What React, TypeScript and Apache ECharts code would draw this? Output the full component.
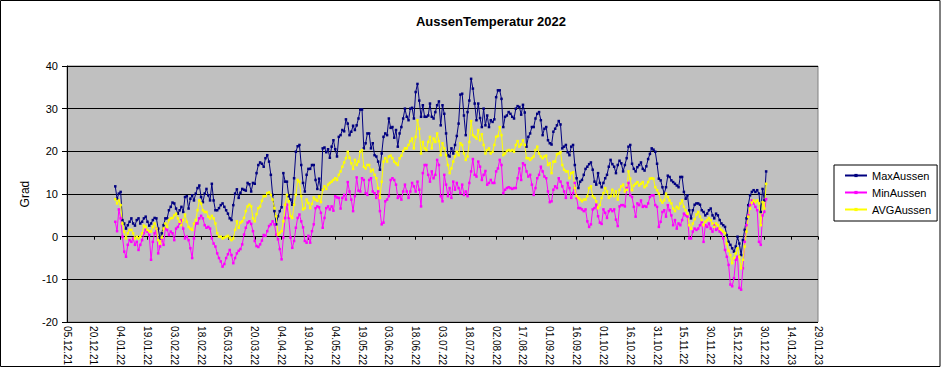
import React, { useEffect, useRef } from "react";
import * as echarts from "echarts";

// Daily values 01.01.2022 - 31.12.2022
const maxAussen = [
  11.8, 8.9, 10.1, 10.5, 3.9, 3.1, 1.9, 2.7, 3.5, 4.3,
  3.1, 2.6, 3.9, 4.3, 3.1, 3.5, 4.3, 4.7, 3.5, 2.6,
  3.1, 3.9, 4.4, 4.3, 1.9, -0.4, 0.8, 2.7, 4.3, 4.3,
  6.2, 7.0, 8.0, 7.8, 6.6, 5.4, 6.2, 7.0, 5.8, 9.3,
  9.5, 6.6, 8.9, 9.7, 8.5, 10.1, 11.4, 12.0, 9.3, 8.1,
  10.1, 11.2, 9.7, 8.5, 12.4, 8.5, 6.2, 6.2, 6.7, 7.4,
  7.8, 7.0, 6.2, 5.4, 4.3, 3.9, 7.4, 10.1, 11.1,
  9.1, 10.3, 11.2, 11.0, 10.8, 12.6, 12.3, 10.6, 12.6, 12.4,
  14.9, 16.8, 17.4, 17.1, 16.4, 18.4, 19.1, 17.6, 14.5, 9.8,
  6.0, 2.9, 4.8, 6.0, 6.9, 14.9, 12.9, 12.9, 9.5, 8.7,
  7.5, 13.7, 19.9, 21.2, 21.5, 16.8, 12.6, 10.6, 14.5, 15.9,
  15.9, 16.8, 16.8, 13.3, 11.2, 13.6, 11.0, 20.7, 20.9, 19.8,
  20.5, 18.5, 21.1, 22.6, 20.5, 18.8, 23.4, 23.8, 25.0, 24.7,
  27.5, 26.5, 23.8, 24.6, 26.0, 25.0, 26.1, 27.7, 29.8, 29.8,
  20.7, 21.9, 24.2,
  24.2, 20.7, 21.9, 19.1, 18.8, 17.6, 15.7, 19.5, 23.4, 24.2,
  23.8, 27.7, 25.5, 25.7, 23.2, 25.0, 21.1, 24.2, 25.7, 27.7,
  30.0, 28.1, 27.3, 30.0, 30.2, 27.7, 33.9, 35.8, 31.9, 28.1,
  30.8, 28.1, 28.1, 28.4, 31.2, 28.1, 27.7, 29.2, 30.8, 31.7,
  26.1, 30.8, 28.8, 24.2, 19.1, 18.8, 20.7, 19.5, 21.5, 23.6,
  26.5, 33.3, 33.5, 28.4, 23.8, 29.2, 31.9, 37.0, 34.7, 31.2,
  27.3, 31.2, 27.8, 25.7, 30.0, 26.1, 28.4, 25.7, 27.3, 26.9,
  27.5, 32.7, 34.3,
  34.3, 32.3, 25.7, 28.1, 28.4, 29.2, 28.8, 28.1, 27.7, 30.0,
  30.6, 30.4, 28.6, 30.9, 29.1, 21.1, 23.4, 24.2, 25.7, 25.7,
  27.7, 28.8, 29.2, 27.3, 23.8, 25.3, 25.7, 22.6, 21.9, 21.6,
  24.6, 25.3, 26.1, 27.1, 26.3, 20.7, 21.1, 21.5, 19.8, 19.1,
  21.1, 21.5, 16.8, 13.7, 11.4, 12.9, 13.3, 14.5, 15.9, 16.4,
  17.0, 17.4, 15.7, 12.9, 12.2, 14.9, 12.6, 11.6, 12.6, 13.7,
  14.5, 16.4, 18.0, 17.0, 16.4, 14.9, 16.8, 17.8, 17.2, 15.3,
  16.8, 18.4, 21.1,
  21.5, 17.1, 15.9, 15.3, 16.3, 16.8, 17.4, 15.9, 15.5, 16.5,
  18.2, 19.4, 20.7, 20.4, 19.9, 17.1, 13.6, 13.2, 11.6, 10.1,
  11.6, 14.3, 14.0, 13.2, 12.8, 12.4, 12.0, 11.6, 14.0, 14.0,
  10.5, 8.9, 9.7, 6.2, 4.3, 6.2, 7.5, 7.8, 7.8, 7.5,
  6.2, 5.8, 5.0, 5.4, 6.2, 6.6, 5.0, 4.3, 5.4, 5.0,
  3.9, 3.1, 2.7, 2.3, 0.4, -1.2, -1.9, -2.7, -3.5, -2.3,
  0, -1.6, -4.3, -0.8, 1.6, 4.3, 7.4, 9.7, 10.5, 10.9,
  10.5, 10.9, 10.1, 5.8, 11.2, 8.5, 15.3,
];

const minAussen = [
  3.5, 1.3, 6.4, 4.3, 0, -3.5, -4.7, -1.9, -0.8, -1.2,
  -0.4, -1.9, -1.2, -3.1, -1.9, -0.8, 0.8, 1.6, 1.2, 0.4,
  -5.4, -1.2, 0.8, 1.9, -3.9, -2.3, -0.4, -1.9, 1.9, 1.6,
  0.4, 1.2, 0.8, -0.8, 1.9, 2.3, 3.1, 3.9, 1.9, -0.4,
  0, -0.8, -2.7, -5.0, -0.4, 3.1, 3.1, 4.3, 4.9, 4.3,
  2.7, 2.1, 2.3, 1.9, -0.4, -1.6, -2.3, -3.9, -5.0, -5.8,
  -7.0, -6.4, -5.0, -4.1, -3.1, -4.3, -6.2, -5.0, -3.9,
  -3.3, -2.9, -1.8, 0.5, 2.1, 3.3, 3.6, 3.0, 1.3, -1.0,
  -2.2, -2.4, -1.8, -0.9, 0.4, 0.2, 1.3, 2.5, 2.9, 3.6,
  2.9, 0.5, -0.6, -2.9, -5.3, -0.2, 4.4, 7.5, 4.4, -0.2,
  -2.6, -1.0, 2.1, 4.4, 5.2, 3.6, 2.2, -1.0, -1.4, 0.2,
  -1.4, 1.3, 2.9, 6.7, 7.1, 6.9, 5.6, 2.1, 4.4, 6.7,
  7.1, 6.4, 7.1, 6.1, 9.5, 9.2, 9.1, 6.6, 9.1, 9.8,
  8.7, 12.8, 10.6, 8.7, 6.0, 9.5, 13.9, 10.8, 10.6, 13.7,
  13.3, 10.2, 9.8,
  13.3, 13.7, 10.6, 10.2, 9.1, 10.6, 6.0, 2.9, 3.3, 8.3,
  8.7, 9.5, 13.3, 13.7, 13.3, 12.2, 9.1, 9.5, 8.7, 10.6,
  12.2, 10.6, 9.1, 10.6, 12.6, 11.8, 10.6, 12.9, 11.0, 7.1,
  14.9, 16.8, 16.8, 14.5, 12.9, 15.3, 13.7, 14.5, 18.0, 16.8,
  9.5, 8.3, 14.5, 12.2, 9.5, 11.4, 9.1, 12.9, 11.0, 12.6,
  11.4, 10.2, 12.2, 9.8, 10.6, 9.5, 12.6, 15.3, 18.2, 14.5,
  14.1, 17.6, 16.4, 13.3, 14.5, 15.4, 12.2, 12.6, 13.3, 12.6,
  12.6, 15.3, 16.0,
  18.0, 16.8, 10.2, 11.0, 11.4, 11.6, 11.4, 11.2, 11.4, 11.4,
  13.7, 16.0, 13.3, 17.2, 16.8, 15.3, 14.1, 14.5, 12.2, 9.8,
  11.4, 13.7, 14.5, 16.4, 15.3, 14.1, 13.7, 10.6, 8.1, 8.3,
  11.0, 11.8, 11.4, 13.7, 12.9, 11.8, 10.6, 9.1, 12.6, 11.4,
  9.1, 10.2, 12.6, 9.1, 6.7, 6.7, 6.4, 6.0, 6.4, 3.6,
  2.3, 2.9, 6.4, 6.7, 7.5, 4.8, 3.3, 3.0, 6.4, 5.6,
  4.4, 6.0, 6.4, 6.0, 6.4, 4.0, 2.5, 7.1, 7.4, 7.4,
  7.1, 11.4, 12.6,
  9.7, 9.3, 7.0, 4.7, 7.8, 7.4, 8.5, 7.0, 7.2, 7.0,
  7.8, 9.3, 9.7, 9.7, 7.4, 7.0, 2.3, 3.5, 5.8, 6.2,
  4.7, 7.4, 6.2, 5.0, 2.7, 3.9, 1.9, 3.1, 2.7, 3.9,
  5.4, 5.0, 4.7, -0.4, -0.4, 1.2, 1.9, 1.6, 1.9, 2.7,
  3.5, -1.2, 2.7, 2.3, 3.1, 1.9, 1.2, 2.7, 1.6, 1.9,
  1.2, 0.8, -0.4, -3.1, -4.7, -6.6, -11.2, -11.6, -9.7, -5.4,
  -4.7, -12.0, -12.4, -7.4, -1.2, 2.7, 5.0, 7.4, 8.5, 7.8,
  7.0, 6.2, -1.2, -1.9, 5.0, 5.8, 8.8,
];

const avgAussen = [
  8.8, 7.8, 8.5, 7.4, 3.1, 1.2, -0.4, 0.8, 1.6, 1.6,
  0.8, -0.4, 0, -0.4, 0, 0.8, 2.6, 2.3, 1.6, 1.3,
  1.2, 2.3, 3.1, 1.9, -0.8, -1.6, -0.2, 1.9, 3.1, 2.3,
  3.9, 4.3, 4.4, 5.0, 5.4, 4.3, 3.5, 2.7, 3.9, 5.2,
  3.5, 2.3, 1.9, 1.6, 3.1, 3.9, 6.2, 8.5, 7.8, 6.2,
  5.8, 5.8, 4.7, 4.3, 4.9, 4.3, 3.1, 0.8, 0, 0,
  -0.4, -0.2, 0, 0.2, -0.2, -0.8, -0.4, 1.6, 3.6,
  2.1, 3.3, 3.6, 4.4, 6.0, 7.1, 7.5, 7.1, 4.3, 3.6,
  5.3, 6.7, 7.1, 8.4, 9.5, 9.5, 10.2, 10.4, 9.8, 8.7,
  6.7, 4.8, 0.5, 0.9, 1.3, 3.6, 7.5, 9.8, 8.3, 4.8,
  4.4, 7.5, 9.8, 13.3, 12.9, 9.5, 6.4, 6.7, 8.7, 7.9,
  6.7, 7.7, 9.2, 8.7, 8.4, 9.5, 8.1, 11.0, 11.8, 11.2,
  12.2, 12.6, 12.9, 13.3, 13.7, 13.3, 14.5, 15.3, 16.4, 17.4,
  18.4, 19.9, 18.5, 17.2, 15.9, 18.0, 16.8, 17.6, 19.9, 20.3,
  16.4, 16.0, 16.8,
  16.8, 15.3, 15.7, 14.5, 13.7, 11.4, 9.1, 12.9, 17.6, 18.4,
  17.6, 18.8, 19.0, 18.4, 17.6, 17.2, 16.8, 18.4, 19.0, 20.1,
  20.7, 20.7, 21.5, 22.4, 23.0, 20.7, 23.4, 27.3, 25.3, 19.5,
  22.2, 20.7, 20.3, 22.2, 23.4, 20.7, 23.0, 22.2, 24.2, 22.4,
  19.1, 21.9, 20.7, 19.1, 16.8, 14.9, 16.0, 17.6, 18.8, 19.9,
  19.1, 21.9, 21.5, 19.5, 18.0, 18.8, 22.2, 27.1, 23.8, 23.4,
  23.0, 25.0, 22.6, 24.0, 21.5, 19.5, 20.3, 20.7, 19.5, 19.9,
  21.5, 23.4, 23.6,
  25.7, 23.8, 19.1, 19.5, 20.1, 20.3, 20.1, 20.3, 19.9, 21.5,
  22.4, 21.1, 21.6, 22.6, 21.5, 18.4, 18.4, 18.0, 18.4, 18.8,
  20.3, 21.1, 19.5, 18.8, 18.4, 18.8, 19.0, 16.8, 17.2, 14.9,
  17.6, 17.6, 19.3, 19.5, 19.8, 16.8, 15.7, 15.3, 15.3, 13.7,
  14.9, 15.1, 11.4, 9.5, 9.1, 8.7, 8.3, 8.7, 8.7, 9.5,
  11.4, 11.8, 9.5, 9.1, 8.3, 6.7, 7.4, 9.1, 10.2, 11.4,
  10.6, 9.1, 9.5, 11.0, 9.5, 10.6, 8.7, 11.0, 11.8, 12.2,
  10.6, 11.0, 15.3,
  13.6, 10.9, 12.0, 12.4, 12.8, 12.0, 12.4, 12.8, 11.6, 12.0,
  12.8, 13.6, 13.7, 13.6, 11.6, 10.9, 10.1, 8.5, 8.0, 8.5,
  10.1, 9.3, 8.5, 7.8, 6.6, 6.0, 7.0, 6.6, 7.8, 8.5,
  7.0, 6.2, 5.4, 2.7, 1.9, 3.1, 4.1, 5.2, 5.8, 4.7,
  3.9, 2.7, 3.5, 3.9, 4.4, 3.9, 3.1, 2.3, 3.1, 2.7,
  1.9, 1.6, 1.2, 0.8, -1.6, -3.3, -4.3, -6.2, -5.0, -3.9,
  -2.7, -4.7, -7.4, -5.4, -2.3, 1.2, 4.7, 6.6, 8.0, 8.5,
  8.1, 8.5, 7.8, 2.7, 8.1, 6.6, 12.4,
];

const seriesNames = ["MaxAussen", "MinAussen", "AVGAussen"];
const seriesColors = ["#000080", "#FF00FF", "#FFFF00"];
const chartTitle = "AussenTemperatur 2022";
const yAxisName = "Grad";

// Date axis: 05.12.21 .. 29.01.23, a label every 15 days
const axisStartUTC = Date.UTC(2021, 11, 5);
const axisDays = 421;
const dataStartUTC = Date.UTC(2022, 0, 1);
const labelEvery = 15;

const FONT = '"Liberation Sans", Arial, sans-serif';

function fmtDate(t: number): string {
  const d = new Date(t);
  const dd = String(d.getUTCDate()).padStart(2, "0");
  const mm = String(d.getUTCMonth() + 1).padStart(2, "0");
  const yy = String(d.getUTCFullYear() % 100).padStart(2, "0");
  return `${dd}.${mm}.${yy}`;
}

const categories: string[] = Array.from({ length: axisDays }, (_, i) =>
  fmtDate(axisStartUTC + i * 86400000)
);
const dataOffset = Math.round((dataStartUTC - axisStartUTC) / 86400000);

function placeOnAxis(values: number[]): (number | null)[] {
  const out: (number | null)[] = new Array(axisDays).fill(null);
  values.forEach((v, i) => {
    if (dataOffset + i < axisDays) out[dataOffset + i] = v;
  });
  return out;
}

export default function App() {
  const ref = useRef<HTMLDivElement>(null);

  useEffect(() => {
    if (!ref.current) return;
    const chart = echarts.init(ref.current, undefined, { renderer: "svg" });
    const data = [maxAussen, minAussen, avgAussen];
    chart.setOption({
      animation: false,
      backgroundColor: "#FFFFFF",
      textStyle: { fontFamily: FONT },
      grid: {
        left: 67,
        right: 125,
        top: 66,
        bottom: 44,
        show: true,
        backgroundColor: "#C0C0C0",
        borderColor: "#808080",
        borderWidth: 1,
      },
      legend: {
        orient: "vertical",
        left: 834,
        top: 165,
        data: seriesNames,
        itemWidth: 22,
        itemHeight: 4,
        itemGap: 6,
        padding: [5, 6, 6, 10],
        borderColor: "#000",
        borderWidth: 1,
        backgroundColor: "#FFFFFF",
        textStyle: { fontSize: 11, color: "#000", fontFamily: FONT },
      },
      xAxis: [
        {
          type: "category",
          data: categories,
          boundaryGap: false,
          position: "bottom",
          axisLine: { show: true, onZero: true, lineStyle: { color: "#000", width: 1 } },
          axisTick: { show: true, interval: labelEvery - 1, length: 3, lineStyle: { color: "#000" } },
          axisLabel: { show: false },
          splitLine: { show: false },
        },
        {
          type: "category",
          data: categories,
          boundaryGap: false,
          position: "bottom",
          axisLine: { show: false, onZero: false },
          axisTick: { show: false },
          splitLine: { show: false },
          axisLabel: {
            interval: labelEvery - 1,
            rotate: -90,
            fontSize: 10,
            color: "#000",
            margin: 4,
            fontFamily: FONT,
            showMinLabel: true,
            showMaxLabel: true,
          },
        },
      ],
      yAxis: {
        type: "value",
        min: -20,
        max: 40,
        interval: 10,
        name: yAxisName,
        nameLocation: "middle",
        nameRotate: 90,
        nameGap: 36,
        nameTextStyle: { fontSize: 12, color: "#000", fontFamily: FONT },
        axisLine: { show: true, lineStyle: { color: "#000", width: 1 } },
        axisTick: { show: true, length: 5, lineStyle: { color: "#000" } },
        axisLabel: { fontSize: 11, color: "#000", margin: 9, fontFamily: FONT },
        splitLine: { show: true, lineStyle: { color: "#000", width: 1 } },
      },
      series: data.map((vals, i) => ({
        name: seriesNames[i],
        type: "line",
        xAxisIndex: 0,
        data: placeOnAxis(vals),
        symbol: "rect",
        symbolSize: 2.5,
        showSymbol: true,
        showAllSymbol: true,
        connectNulls: false,
        color: seriesColors[i],
        itemStyle: { color: seriesColors[i] },
        lineStyle: { color: seriesColors[i], width: 1 },
        emphasis: { disabled: true },
      })),
      graphic: [
        {
          type: "text",
          x: 491,
          y: 21,
          style: {
            text: chartTitle,
            align: "center",
            verticalAlign: "middle",
            fontSize: 13,
            fontWeight: "bold",
            fontFamily: FONT,
            fill: "#000",
          },
          silent: true,
        },
        {
          type: "rect",
          shape: { x: 0.5, y: 0.5, width: 939.5, height: 366 },
          style: { fill: "none", stroke: "#000", lineWidth: 1 },
          silent: true,
          z: 100,
        },
      ],
    });
    return () => chart.dispose();
  }, []);

  return (
    <div
      ref={ref}
      style={{ position: "absolute", left: 0, top: 0, width: 943, height: 368 }}
    />
  );
}
